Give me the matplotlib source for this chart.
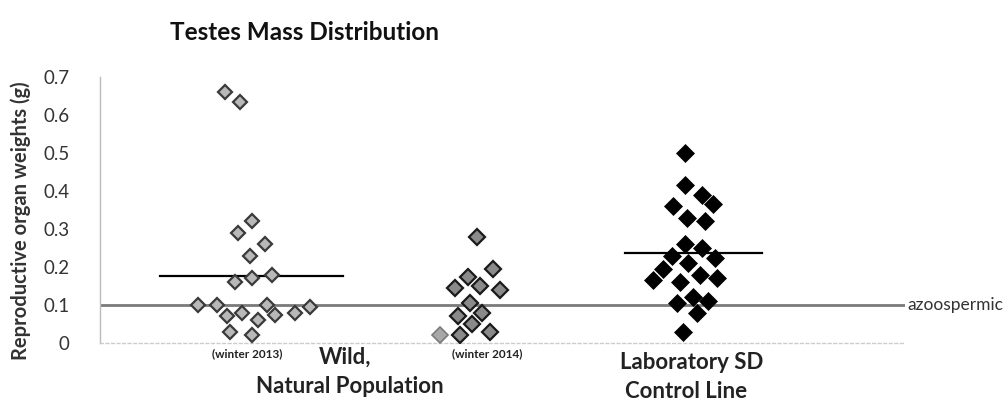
import numpy as np
import matplotlib.pyplot as plt

plt.rcParams['font.family'] = ['Lato', 'DejaVu Sans']

# values (g) with horizontal jitter of each diamond
w2013_vals = [0.66, 0.635, 0.32, 0.29, 0.26, 0.23, 0.18, 0.17, 0.16, 0.10, 0.10, 0.10,
              0.07, 0.08, 0.06, 0.075, 0.08, 0.095, 0.03, 0.02]
w2013_jit = [-0.25, -0.1, 0.02, -0.12, 0.15, 0.0, 0.22, 0.02, -0.15, -0.52, -0.33, 0.17,
             -0.23, -0.08, 0.08, 0.25, 0.45, 0.60, -0.20, 0.02]
w2014_vals = [0.28, 0.195, 0.175, 0.15, 0.14, 0.145, 0.105, 0.08, 0.07, 0.05, 0.03, 0.02]
w2014_jit = [0.0, 0.16, -0.09, 0.03, 0.23, -0.22, -0.07, 0.05, -0.19, -0.05, 0.13, -0.17]
w2014_light_vals = [0.02]
w2014_light_jit = [-0.37]
lab_vals = [0.50, 0.415, 0.39, 0.36, 0.365, 0.33, 0.32, 0.26, 0.25, 0.23, 0.225, 0.21,
            0.195, 0.18, 0.17, 0.165, 0.16, 0.12, 0.105, 0.11, 0.08, 0.03]
lab_jit = [-0.03, -0.03, 0.14, -0.15, 0.25, -0.01, 0.17, -0.03, 0.14, -0.16, 0.27, 0.0,
           -0.25, 0.12, 0.29, -0.35, -0.08, 0.05, -0.11, 0.2, 0.09, -0.05]
mean_2013 = 0.177
mean_lab = 0.237
azoo_level = 0.1
yticks = [0, 0.1, 0.2, 0.3, 0.4, 0.5, 0.6, 0.7]
ytick_labels = ['0', '0.1', '0.2', '0.3', '0.4', '0.5', '0.6', '0.7']

c2013, c2014, clab = 1.5, 3.77, 5.88

fig = plt.figure(figsize=(10.06, 4.11), dpi=100)
ax = fig.add_axes([100 / 1006, 68 / 411, 805 / 1006, 266 / 411])

ax.axhline(azoo_level, color='#7a7a7a', lw=2, zorder=1)

ax.plot(c2013 + np.array(w2013_jit), w2013_vals, 'D', ms=7.5, mfc='#b8b8b8',
        mec='#3a3a3a', mew=1.6, ls='none', zorder=3)
ax.plot(c2014 + np.array(w2014_jit), w2014_vals, 'D', ms=7.8, mfc='#8a8a8a',
        mec='#1a1a1a', mew=1.6, ls='none', zorder=3)
ax.plot(c2014 + np.array(w2014_light_jit), w2014_light_vals, 'D', ms=7.8, mfc='#a8a8a8',
        mec='#7a7a7a', mew=1.2, ls='none', zorder=3)
ax.plot(clab + np.array(lab_jit), lab_vals, 'D', ms=9.5, mfc='black',
        mec='black', mew=0.5, ls='none', zorder=3)

ax.plot([c2013 - 0.90, c2013 + 0.93], [mean_2013, mean_2013], color='black', lw=1.6, zorder=2)
ax.plot([clab - 0.63, clab + 0.74], [mean_lab, mean_lab], color='black', lw=1.6, zorder=2)

ax.set_xlim(0, 8.05)
ax.set_ylim(0, 0.7)
ax.set_xticks([])
ax.set_yticks(yticks)
ax.set_yticklabels(ytick_labels, fontsize=13.5, color='#333333')
ax.tick_params(axis='y', length=0, pad=22)
for s in ['top', 'right']:
    ax.spines[s].set_visible(False)
ax.spines['left'].set_color('#bbbbbb')
ax.spines['left'].set_linewidth(1)
ax.spines['bottom'].set_color('#cccccc')
ax.spines['bottom'].set_linestyle((0, (2, 2)))
ax.spines['bottom'].set_linewidth(1)

ax.set_ylabel('Reproductive organ weights (g)', fontsize=14.5, fontweight='bold',
              color='#333333')
ax.yaxis.set_label_coords(-0.086, 0.46)

ax.text(c2013 - 0.03, -0.027, '(winter 2013)', fontsize=8.5, fontweight='bold',
        ha='center', va='center', color='#222222')
ax.text(3.87, -0.027, '(winter 2014)', fontsize=8.5, fontweight='bold',
        ha='center', va='center', color='#222222')
ax.text(2.45, -0.037, 'Wild,', fontsize=16, fontweight='bold',
        ha='center', va='center', color='#222222')
ax.text(2.5, -0.115, 'Natural Population', fontsize=16, fontweight='bold',
        ha='center', va='center', color='#222222')
ax.text(5.92, -0.05, 'Laboratory SD', fontsize=16, fontweight='bold',
        ha='center', va='center', color='#222222')
ax.text(5.86, -0.128, 'Control Line', fontsize=16, fontweight='bold',
        ha='center', va='center', color='#222222')
ax.text(8.07, azoo_level, 'azoospermic', fontsize=12.5, ha='left', va='center',
        color='#333333', clip_on=False)

fig.text(305 / 1006, 1 - 32 / 411, 'Testes Mass Distribution', fontsize=17.5,
         fontweight='bold', ha='center', va='center', color='#111111')

fig.savefig('out.png', dpi=100)
